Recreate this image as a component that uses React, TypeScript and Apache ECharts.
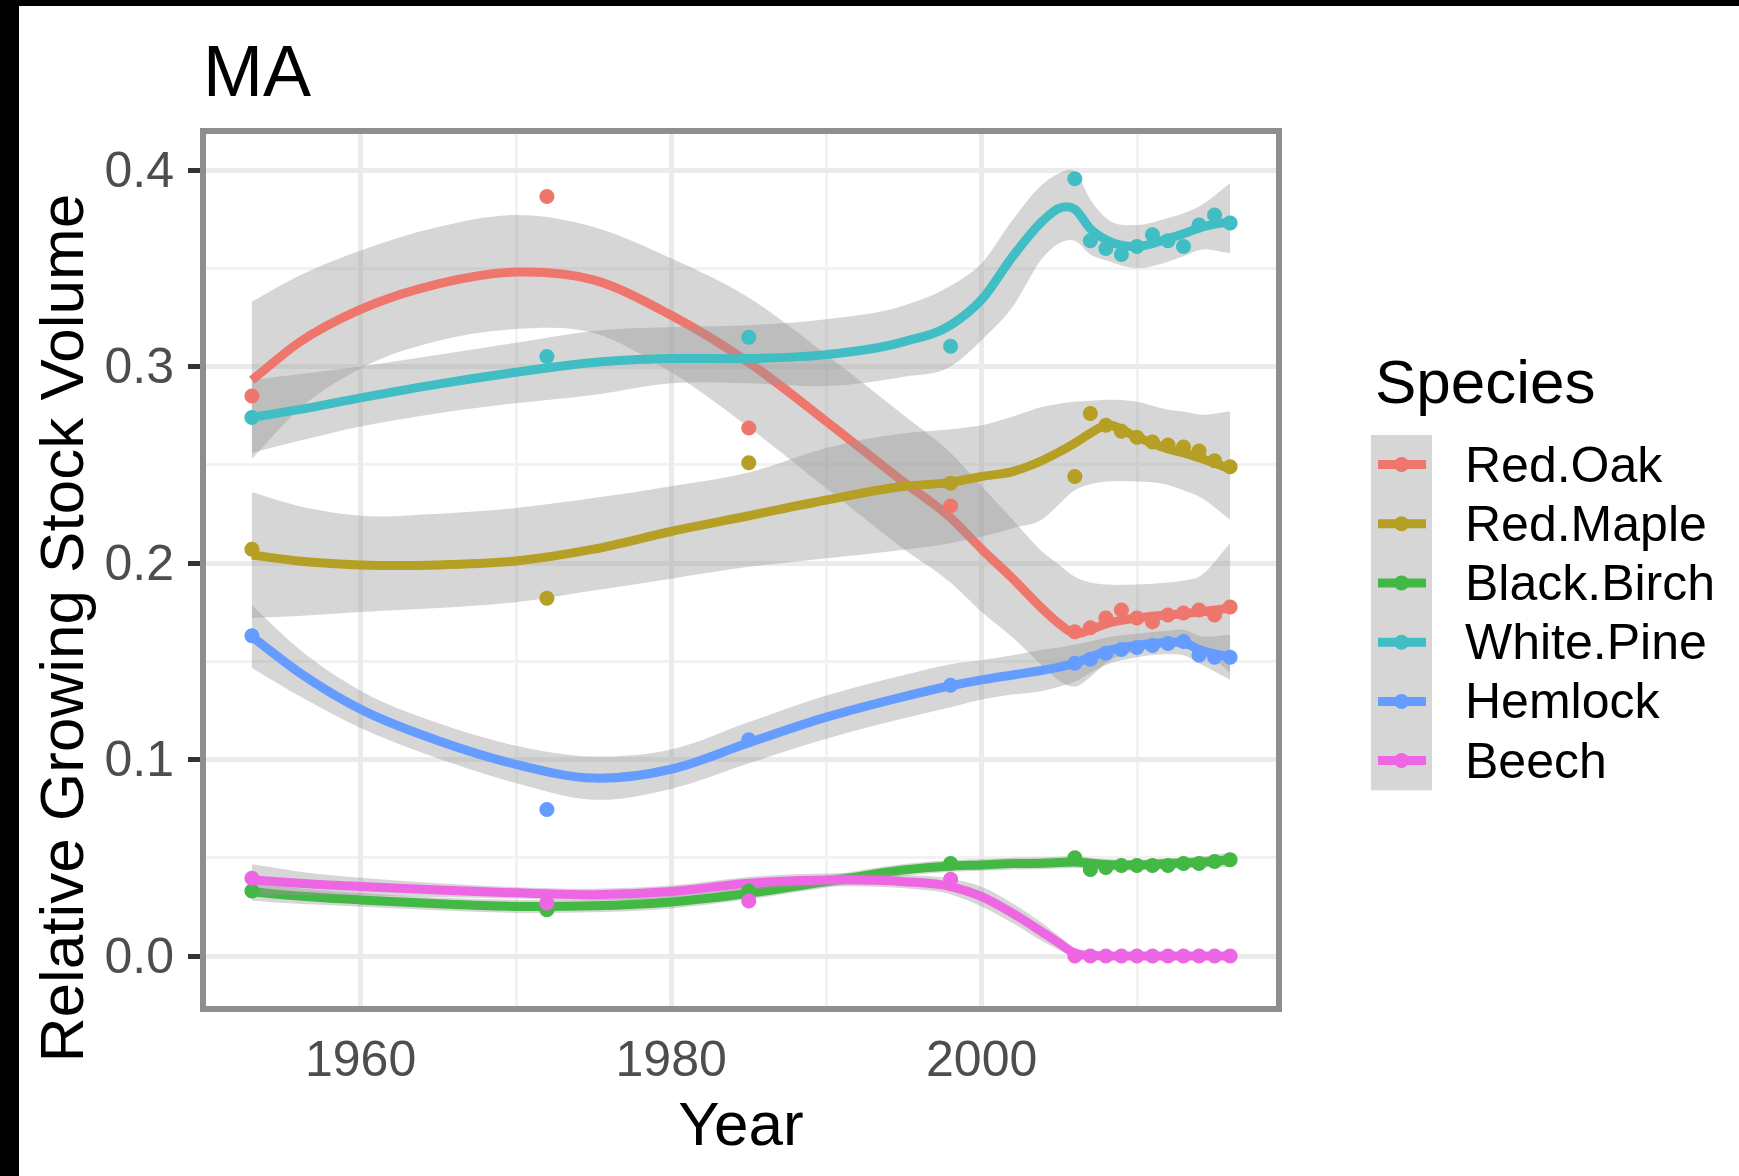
import React, { useEffect, useRef } from "react";
import * as echarts from "echarts";

// ---------- data ----------
const SPECIES = ["Red.Oak", "Red.Maple", "Black.Birch", "White.Pine", "Hemlock", "Beech"];
const COLORS = ["#EF766D", "#B59F25", "#43B845", "#40BEC3", "#649CFF", "#EE66E3"];

// smooth-fit sample years
const YEARS = [1953, 1956, 1960, 1965, 1970, 1975, 1980, 1985, 1990, 1995, 1998, 2000, 2002, 2004, 2005, 2006, 2007, 2008, 2010, 2012, 2013, 2014, 2016];

const RED_OAK_FIT = [0.293, 0.312, 0.329, 0.342, 0.348, 0.344, 0.326, 0.302, 0.272, 0.241, 0.223, 0.207, 0.192, 0.176, 0.169, 0.164, 0.166, 0.169, 0.172, 0.1735, 0.1742, 0.175, 0.177];
const RED_OAK_HI = [0.333, 0.346, 0.359, 0.371, 0.377, 0.371, 0.355, 0.335, 0.306, 0.275, 0.256, 0.239, 0.222, 0.205, 0.199, 0.193, 0.19, 0.189, 0.189, 0.19, 0.191, 0.193, 0.21];
const RED_OAK_LO = [0.253, 0.278, 0.299, 0.313, 0.319, 0.317, 0.297, 0.269, 0.238, 0.207, 0.19, 0.175, 0.162, 0.147, 0.14, 0.137, 0.142, 0.149, 0.155, 0.157, 0.157, 0.157, 0.144];

const RED_MAPLE_FIT = [0.204, 0.201, 0.199, 0.199, 0.201, 0.207, 0.216, 0.224, 0.232, 0.239, 0.241, 0.244, 0.2465, 0.2525, 0.2565, 0.261, 0.266, 0.27, 0.264, 0.258, 0.256, 0.2535, 0.248];
const RED_MAPLE_HI = [0.236, 0.229, 0.224, 0.225, 0.228, 0.233, 0.239, 0.246, 0.2585, 0.266, 0.268, 0.27, 0.2745, 0.2796, 0.281, 0.282, 0.2825, 0.283, 0.282, 0.278, 0.277, 0.2755, 0.277];
const RED_MAPLE_LO = [0.172, 0.173, 0.175, 0.177, 0.18, 0.186, 0.192, 0.198, 0.2024, 0.2067, 0.21, 0.2134, 0.2177, 0.2227, 0.23, 0.237, 0.24, 0.2414, 0.2414, 0.2397, 0.237, 0.2338, 0.222];

const BLACK_BIRCH_FIT = [0.0327, 0.0305, 0.0285, 0.0265, 0.0252, 0.0255, 0.0275, 0.0319, 0.0378, 0.0438, 0.0458, 0.0463, 0.047, 0.0472, 0.0475, 0.0478, 0.0472, 0.0465, 0.0463, 0.047, 0.0473, 0.0477, 0.0489];
const BLACK_BIRCH_HI = [0.0372, 0.0345, 0.032, 0.0298, 0.0285, 0.0288, 0.0308, 0.035, 0.0408, 0.0468, 0.0488, 0.0493, 0.05, 0.0502, 0.0505, 0.0508, 0.05, 0.0493, 0.049, 0.0497, 0.05, 0.0505, 0.0525];
const BLACK_BIRCH_LO = [0.0282, 0.0265, 0.025, 0.0232, 0.0219, 0.0222, 0.0242, 0.0288, 0.0348, 0.0408, 0.0428, 0.0433, 0.044, 0.0442, 0.0445, 0.0448, 0.0444, 0.0437, 0.0436, 0.0443, 0.0446, 0.0449, 0.0453];

const WHITE_PINE_FIT = [0.274, 0.278, 0.284, 0.291, 0.297, 0.302, 0.304, 0.304, 0.306, 0.3126, 0.321, 0.334, 0.356, 0.3746, 0.3805, 0.38, 0.37, 0.3645, 0.361, 0.365, 0.3675, 0.3705, 0.3737];
const WHITE_PINE_HI = [0.293, 0.296, 0.3, 0.306, 0.312, 0.318, 0.32, 0.321, 0.324, 0.331, 0.341, 0.3525, 0.3746, 0.3932, 0.3983, 0.399, 0.385, 0.3755, 0.372, 0.3755, 0.378, 0.3814, 0.3932];
const WHITE_PINE_LO = [0.256, 0.262, 0.2694, 0.2762, 0.2813, 0.2855, 0.2914, 0.2914, 0.29, 0.2948, 0.3, 0.3135, 0.3304, 0.3559, 0.3627, 0.364, 0.357, 0.354, 0.35, 0.3533, 0.356, 0.3593, 0.3576];

const HEMLOCK_FIT = [0.1625, 0.1445, 0.1255, 0.1095, 0.0975, 0.0905, 0.095, 0.1085, 0.1215, 0.132, 0.1375, 0.1405, 0.143, 0.1455, 0.147, 0.149, 0.152, 0.155, 0.158, 0.1595, 0.1595, 0.156, 0.152];
const HEMLOCK_HI = [0.1785, 0.1565, 0.135, 0.1185, 0.107, 0.1015, 0.105, 0.119, 0.1325, 0.143, 0.1485, 0.1505, 0.153, 0.156, 0.157, 0.1585, 0.16, 0.162, 0.164, 0.1655, 0.166, 0.163, 0.1635];
const HEMLOCK_LO = [0.1465, 0.1325, 0.116, 0.1005, 0.088, 0.0795, 0.085, 0.098, 0.1105, 0.121, 0.1265, 0.1305, 0.133, 0.135, 0.137, 0.1395, 0.144, 0.148, 0.152, 0.1535, 0.153, 0.149, 0.1405];

const BEECH_FIT = [0.0387, 0.037, 0.0353, 0.0335, 0.0321, 0.0312, 0.0328, 0.037, 0.0387, 0.0378, 0.0353, 0.0302, 0.0217, 0.0116, 0.0065, 0.0014, 0.0003, 0, 0, 0, 0, 0, 0];
const BEECH_HI = [0.0467, 0.043, 0.0398, 0.037, 0.035, 0.0342, 0.0358, 0.0402, 0.042, 0.0412, 0.0393, 0.0352, 0.0267, 0.0161, 0.01, 0.0039, 0.002, 0.0015, 0.0015, 0.0015, 0.0015, 0.0015, 0.002];
const BEECH_LO = [0.0307, 0.031, 0.0308, 0.03, 0.0292, 0.0282, 0.0298, 0.0338, 0.0354, 0.0344, 0.0313, 0.0252, 0.0167, 0.0071, 0.003, -0.0011, -0.0014, -0.0015, -0.0015, -0.0015, -0.0015, -0.0015, -0.002];

// observed points
const POINT_YEARS = [1953, 1972, 1985, 1998, 2006, 2007, 2008, 2009, 2010, 2011, 2012, 2013, 2014, 2015, 2016];
const RED_OAK_PTS = [0.285, 0.3865, 0.2686, 0.229, 0.165, 0.167, 0.172, 0.176, 0.172, 0.17, 0.1735, 0.1745, 0.176, 0.1735, 0.1776];
const RED_MAPLE_PTS = [0.207, 0.182, 0.251, 0.2405, 0.244, 0.276, 0.27, 0.267, 0.264, 0.2615, 0.26, 0.259, 0.257, 0.252, 0.249];
const BLACK_BIRCH_PTS = [0.033, 0.0235, 0.033, 0.047, 0.05, 0.044, 0.045, 0.046, 0.046, 0.046, 0.046, 0.047, 0.047, 0.048, 0.049];
const WHITE_PINE_PTS = [0.274, 0.305, 0.3148, 0.3103, 0.3955, 0.364, 0.36, 0.357, 0.361, 0.367, 0.364, 0.361, 0.372, 0.377, 0.373];
const HEMLOCK_PTS = [0.163, 0.0745, 0.11, 0.1377, 0.149, 0.151, 0.154, 0.156, 0.157, 0.158, 0.159, 0.16, 0.153, 0.152, 0.152];
const BEECH_PTS = [0.0395, 0.027, 0.028, 0.039, 0, 0, 0, 0, 0, 0, 0, 0, 0, 0, 0];

const X_TICKS = [1960, 1980, 2000];
const X_MINOR = [1970, 1990, 2010];
const Y_TICKS = [0, 0.1, 0.2, 0.3, 0.4];
const Y_MINOR = [0.05, 0.15, 0.25, 0.35];

const FITS = [RED_OAK_FIT, RED_MAPLE_FIT, BLACK_BIRCH_FIT, WHITE_PINE_FIT, HEMLOCK_FIT, BEECH_FIT];
const HIS = [RED_OAK_HI, RED_MAPLE_HI, BLACK_BIRCH_HI, WHITE_PINE_HI, HEMLOCK_HI, BEECH_HI];
const LOS = [RED_OAK_LO, RED_MAPLE_LO, BLACK_BIRCH_LO, WHITE_PINE_LO, HEMLOCK_LO, BEECH_LO];
const PTS = [RED_OAK_PTS, RED_MAPLE_PTS, BLACK_BIRCH_PTS, WHITE_PINE_PTS, HEMLOCK_PTS, BEECH_PTS];

// ---------- layout ----------
const W = 1739;
const H = 1176;
const GRID = { left: 203, top: 131, width: 1076, height: 878 };
const X_MIN = 1949.85;
const X_MAX = 2019.15;
const Y_MIN = -0.027;
const Y_MAX = 0.4198;
const FONT = '"Liberation Sans", Arial, Helvetica, sans-serif';

// ---------- smooth curve shape (cubic Hermite through pixel points) ----------
function splineTo(ctx: any, pts: number[][], move: boolean) {
  const n = pts.length;
  if (n === 0) return;
  if (move) ctx.moveTo(pts[0][0], pts[0][1]);
  else ctx.lineTo(pts[0][0], pts[0][1]);
  if (n === 1) return;
  const h: number[] = [];
  const d: number[] = [];
  for (let k = 0; k < n - 1; k++) {
    h.push(pts[k + 1][0] - pts[k][0]);
    d.push((pts[k + 1][1] - pts[k][1]) / (pts[k + 1][0] - pts[k][0]));
  }
  const m: number[] = [];
  for (let k = 0; k < n; k++) {
    if (k === 0) m.push(d[0]);
    else if (k === n - 1) m.push(d[n - 2]);
    else m.push((d[k - 1] * h[k] + d[k] * h[k - 1]) / (h[k - 1] + h[k]));
  }
  for (let k = 0; k < n - 1; k++) {
    const x0 = pts[k][0];
    const y0 = pts[k][1];
    const x1 = pts[k + 1][0];
    const y1 = pts[k + 1][1];
    const hh = h[k] / 3;
    ctx.bezierCurveTo(x0 + hh, y0 + m[k] * hh, x1 - hh, y1 - m[k + 1] * hh, x1, y1);
  }
}

const SmoothShape = (echarts as any).graphic.extendShape({
  type: "smoothCurve",
  shape: { up: [] as number[][], lo: null as number[][] | null },
  buildPath(ctx: any, shape: any) {
    splineTo(ctx, shape.up, true);
    if (shape.lo) {
      const rev = shape.lo.slice().reverse();
      splineTo(ctx, rev, false);
      ctx.closePath();
    }
  },
});
(echarts as any).graphic.registerShape("smoothCurve", SmoothShape);

function buildOption() {
  const series: any[] = [];

  // gridlines (behind everything)
  const gridLines: any[] = [];
  X_MINOR.forEach((v) => gridLines.push({ xAxis: v, lineStyle: { color: "#F2F2F2", width: 3, type: "solid" } }));
  Y_MINOR.forEach((v) => gridLines.push({ yAxis: v, lineStyle: { color: "#F2F2F2", width: 3, type: "solid" } }));
  X_TICKS.forEach((v) => gridLines.push({ xAxis: v, lineStyle: { color: "#EBEBEB", width: 5, type: "solid" } }));
  Y_TICKS.forEach((v) => gridLines.push({ yAxis: v, lineStyle: { color: "#EBEBEB", width: 5, type: "solid" } }));
  series.push({
    type: "line",
    name: "grid",
    data: [[X_MIN, Y_MIN]],
    symbol: "none",
    lineStyle: { opacity: 0 },
    silent: true,
    z: 1,
    markLine: {
      z: 1,
      silent: true,
      symbol: ["none", "none"],
      label: { show: false },
      animation: false,
      data: gridLines,
    },
  });

  SPECIES.forEach((sp, k) => {
    const lo = LOS[k];
    const hi = HIS[k];
    const fit = FITS[k];
    // confidence ribbon
    series.push({
      type: "custom",
      name: sp + " se",
      data: [[YEARS[0], fit[0]]],
      silent: true,
      z: 2,
      renderItem: (params: any, api: any) => {
        const up = YEARS.map((y, i) => api.coord([y, hi[i]]));
        const dn = YEARS.map((y, i) => api.coord([y, lo[i]]));
        return {
          type: "smoothCurve",
          shape: { up, lo: dn },
          style: { fill: "rgba(153,153,153,0.4)", stroke: "none" },
        };
      },
    });
    // fitted curve
    series.push({
      type: "custom",
      name: sp,
      data: [[YEARS[0], fit[0]]],
      silent: true,
      z: 2,
      renderItem: (params: any, api: any) => {
        const up = YEARS.map((y, i) => api.coord([y, fit[i]]));
        return {
          type: "smoothCurve",
          shape: { up, lo: null },
          style: { fill: "none", stroke: COLORS[k], lineWidth: 9 },
        };
      },
    });
  });

  SPECIES.forEach((sp, k) => {
    series.push({
      type: "scatter",
      name: sp + " points",
      data: POINT_YEARS.map((y, i) => [y, PTS[k][i]]),
      symbol: "circle",
      symbolSize: 15,
      itemStyle: { color: COLORS[k], opacity: 1 },
      silent: true,
      z: 3,
    });
  });

  // legend drawn as graphics
  const legendX = 1371;
  const legendTop = 435;
  const keyH = 59.2;
  const keyW = 61;
  const legendEls: any[] = [
    {
      type: "rect",
      shape: { x: legendX, y: legendTop, width: keyW, height: keyH * SPECIES.length },
      style: { fill: "#D6D6D6" },
      z: 10,
    },
    {
      type: "text",
      x: 1375,
      y: 381,
      style: { text: "Species", fontSize: 62, fontFamily: FONT, fill: "#000000", align: "left", verticalAlign: "middle" },
      z: 10,
    },
  ];
  SPECIES.forEach((sp, k) => {
    const cy = legendTop + keyH * (k + 0.5);
    legendEls.push({
      type: "line",
      shape: { x1: legendX + 7, y1: cy, x2: legendX + keyW - 6, y2: cy },
      style: { stroke: COLORS[k], lineWidth: 9 },
      z: 11,
    });
    legendEls.push({
      type: "circle",
      shape: { cx: legendX + keyW / 2, cy, r: 7.5 },
      style: { fill: COLORS[k] },
      z: 12,
    });
    legendEls.push({
      type: "text",
      x: 1465,
      y: cy,
      style: { text: sp, fontSize: 50, fontFamily: FONT, fill: "#000000", align: "left", verticalAlign: "middle" },
      z: 12,
    });
  });

  const graphic: any[] = [
    { type: "rect", shape: { x: 0, y: 0, width: W, height: 6 }, style: { fill: "#000000" }, z: 100 },
    { type: "rect", shape: { x: 0, y: 0, width: 19, height: H }, style: { fill: "#000000" }, z: 100 },
    {
      type: "rect",
      shape: { x: GRID.left, y: GRID.top, width: GRID.width, height: GRID.height },
      style: { fill: "none", stroke: "#8E8E8E", lineWidth: 6 },
      z: 50,
      silent: true,
    },
    {
      type: "text",
      x: 203,
      y: 71,
      style: { text: "MA", fontSize: 72, fontFamily: FONT, fill: "#000000", align: "left", verticalAlign: "middle" },
      z: 10,
    },
    {
      type: "text",
      x: 741,
      y: 1123,
      style: { text: "Year", fontSize: 62, fontFamily: FONT, fill: "#000000", align: "center", verticalAlign: "middle" },
      z: 10,
    },
    {
      type: "text",
      x: 61,
      y: 628,
      rotation: Math.PI / 2,
      style: {
        text: "Relative Growing Stock Volume",
        fontSize: 62,
        fontFamily: FONT,
        fill: "#000000",
        align: "center",
        verticalAlign: "middle",
      },
      z: 10,
    },
    ...legendEls,
  ];

  return {
    animation: false,
    backgroundColor: "#FFFFFF",
    grid: { left: GRID.left, top: GRID.top, width: GRID.width, height: GRID.height, show: false, containLabel: false },
    xAxis: {
      type: "value",
      min: X_MIN,
      max: X_MAX,
      axisLine: { show: false },
      splitLine: { show: false },
      minorSplitLine: { show: false },
      axisTick: {
        show: true,
        length: 15,
        inside: false,
        customValues: X_TICKS,
        lineStyle: { color: "#333333", width: 5 },
      },
      axisLabel: {
        show: true,
        customValues: X_TICKS,
        margin: 25,
        fontSize: 50,
        fontFamily: FONT,
        color: "#4D4D4D",
        formatter: (v: number) => String(Math.round(v)),
      },
    },
    yAxis: {
      type: "value",
      min: Y_MIN,
      max: Y_MAX,
      axisLine: { show: false },
      splitLine: { show: false },
      minorSplitLine: { show: false },
      axisTick: {
        show: true,
        length: 15,
        inside: false,
        customValues: Y_TICKS,
        lineStyle: { color: "#333333", width: 5 },
      },
      axisLabel: {
        show: true,
        customValues: Y_TICKS,
        margin: 29,
        fontSize: 50,
        fontFamily: FONT,
        color: "#4D4D4D",
        formatter: (v: number) => v.toFixed(1),
      },
    },
    graphic,
    series,
  };
}

export default function App() {
  const ref = useRef<HTMLDivElement>(null);
  useEffect(() => {
    const el = ref.current;
    if (!el) return;
    const chart = echarts.init(el, null, { renderer: "svg" });
    chart.setOption(buildOption() as any);
    return () => {
      chart.dispose();
    };
  }, []);
  return (
    <div
      ref={ref}
      style={{ position: "absolute", left: 0, top: 0, width: W, height: H, background: "#FFFFFF" }}
    />
  );
}
